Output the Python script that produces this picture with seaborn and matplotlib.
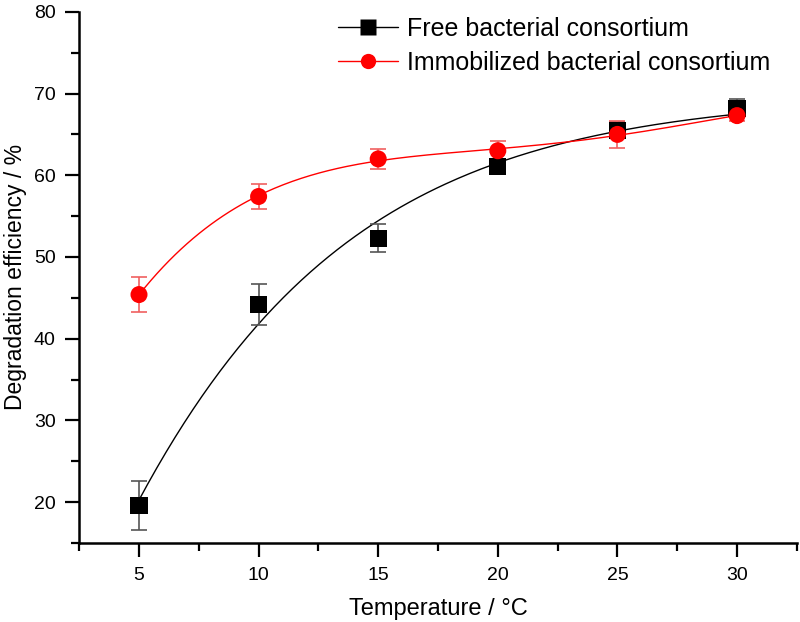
import numpy as np
import pandas as pd
import matplotlib
matplotlib.use("Agg")
import matplotlib.pyplot as plt
import seaborn as sns
from matplotlib.lines import Line2D
from matplotlib.ticker import MultipleLocator

# data
temperature = [5, 10, 15, 20, 25, 30]
free_eff = [19.6, 44.2, 52.3, 61.1, 65.5, 68.2]
free_err = [3.0, 2.5, 1.7, 0.7, 1.0, 1.1]
immob_eff = [45.4, 57.4, 62.0, 63.0, 65.0, 67.3]
immob_err = [2.1, 1.5, 1.2, 1.2, 1.7, 0.7]
series_names = ["Free bacterial consortium", "Immobilized bacterial consortium"]


def boltzmann_fit(x, y, xs):
    """Sigmoid fit y = A2 + (A1-A2)/(1+exp((x-x0)/dx)) by grid search."""
    x = np.asarray(x, float)
    y = np.asarray(y, float)
    best = None
    for x0 in np.linspace(-10, 20, 301):
        for dx in np.linspace(1, 20, 191):
            g = 1.0 / (1.0 + np.exp((x - x0) / dx))
            A = np.column_stack([g, 1 - g])
            coef, *_ = np.linalg.lstsq(A, y, rcond=None)
            res = np.sum((A @ coef - y) ** 2)
            if best is None or res < best[0]:
                best = (res, x0, dx, coef)
    _, x0, dx, (a1, a2) = best
    g = 1.0 / (1.0 + np.exp((xs - x0) / dx))
    return a1 * g + a2 * (1 - g)


sns.set_style("ticks")
plt.rcParams["font.family"] = ["Liberation Sans", "DejaVu Sans"]
plt.rcParams["text.color"] = "black"
plt.rcParams["axes.labelcolor"] = "black"

fig = plt.figure(figsize=(8, 6.22), dpi=100)
ax = fig.add_axes([0.099, 0.127, 0.897, 0.854])

df = pd.DataFrame({
    "temperature": temperature * 2,
    "eff": free_eff + immob_eff,
    "err": free_err + immob_err,
    "series": [series_names[0]] * 6 + [series_names[1]] * 6,
})

styles = {
    series_names[0]: dict(color="black", ecolor="#555555", marker="s"),
    series_names[1]: dict(color="#ff0000", ecolor="#f06060", marker="o"),
}

# smooth fitted curves through the points
xs = np.linspace(5, 30, 200)
free_fit = boltzmann_fit(temperature, free_eff, xs)
immob_fit = np.polyval(np.polyfit(temperature, immob_eff, 4), xs)
curve_df = pd.concat([
    pd.DataFrame({"temperature": xs, "eff": free_fit, "series": series_names[0]}),
    pd.DataFrame({"temperature": xs, "eff": immob_fit, "series": series_names[1]}),
])

sns.lineplot(data=curve_df, x="temperature", y="eff", hue="series",
             palette={n: styles[n]["color"] for n in series_names},
             linewidth=1.0, legend=False, ax=ax)

for name in series_names:
    sub = df[df.series == name]
    st = styles[name]
    ax.errorbar(sub.temperature, sub.eff, yerr=sub.err, fmt="none",
                ecolor=st["ecolor"], elinewidth=1.2, capsize=6, capthick=1.2, zorder=3)
sns.scatterplot(data=df, x="temperature", y="eff", hue="series", style="series",
                palette={n: styles[n]["color"] for n in series_names},
                markers={n: styles[n]["marker"] for n in series_names},
                s=150, edgecolor="none", legend=False, zorder=4, ax=ax)

ax.set_xlim(2.5, 32.5)
ax.set_ylim(15, 80)
ax.xaxis.set_major_locator(MultipleLocator(5))
ax.xaxis.set_minor_locator(MultipleLocator(2.5))
ax.yaxis.set_major_locator(MultipleLocator(10))
ax.yaxis.set_minor_locator(MultipleLocator(5))
ax.set_yticks([20, 30, 40, 50, 60, 70, 80])
ax.set_xticks([5, 10, 15, 20, 25, 30])
ax.tick_params(which="major", direction="out", length=10, width=1.6, pad=7,
               labelsize=14, colors="black")
ax.tick_params(which="minor", direction="out", length=6, width=1.6, colors="black")
for sp in ["left", "bottom"]:
    ax.spines[sp].set_linewidth(1.8)
    ax.spines[sp].set_color("black")
sns.despine(ax=ax)

ax.set_xlabel("Temperature / \u00b0C", fontsize=17, labelpad=10, color="black")
ax.set_ylabel("Degradation efficiency / %", fontsize=16.5, labelpad=5, color="black")

handles = [Line2D([0], [0], color=styles[n]["color"], lw=1.0, marker=styles[n]["marker"],
                  markersize=11, markeredgecolor="none") for n in series_names]
leg = ax.legend(handles, series_names, loc="upper left", bbox_to_anchor=(0.347, 1.01),
                frameon=False, fontsize=18, handlelength=2.4, handletextpad=0.35,
                labelspacing=0.4, borderaxespad=0.0)
for t in leg.get_texts():
    t.set_color("black")

fig.savefig("out.png", dpi=100)
